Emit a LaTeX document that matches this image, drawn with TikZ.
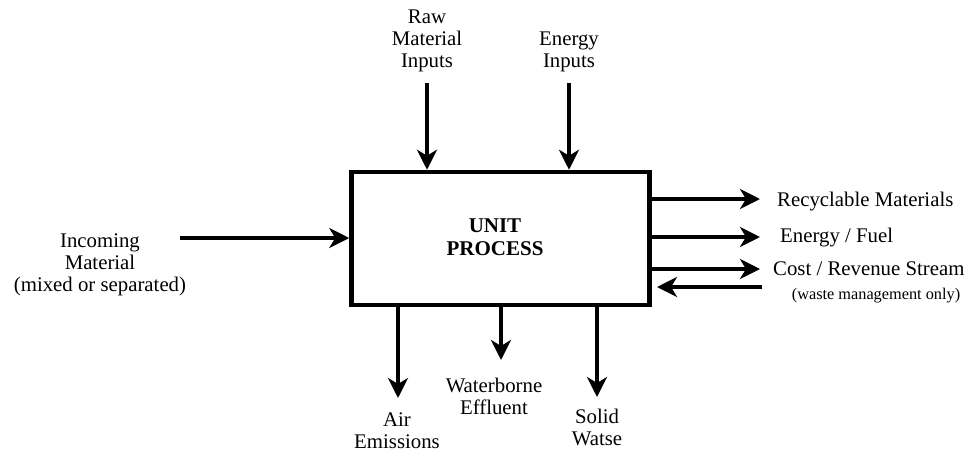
\documentclass[tikz,border=0pt]{standalone}
\usepackage{fontspec}
\setmainfont{Liberation Serif}
\usetikzlibrary{arrows.meta}
\begin{document}
\begin{tikzpicture}[x=1pt,y=-1pt,
  lbl/.style={font=\fontsize{20.8}{22}\selectfont, align=center, inner sep=0pt, anchor=base},
  rlbl/.style={font=\fontsize{20.8}{22}\selectfont, inner sep=0pt, anchor=base west},
  small/.style={font=\fontsize{16.3}{18}\selectfont, inner sep=0pt, anchor=base},
  ttl/.style={font=\fontsize{21}{23}\selectfont\bfseries, align=center, inner sep=0pt, anchor=base},
  procbox/.style={draw, line width=4.5pt, minimum width=298pt, minimum height=133pt, inner sep=0pt},
  flow/.style={line width=3.5pt, -{Stealth[length=20pt,width=20pt,inset=6pt]}}]
\useasboundingbox (0,0) rectangle (966,453);

% unit process box
\node[procbox] (box) at (500.5,238.5) {};
\node[ttl] (title) at (495,255) {UNIT\\PROCESS};

% top inputs
\node[lbl] (raw) at (427,67) {Raw\\Material\\Inputs};
\node[lbl] (energyin) at (569,67) {Energy\\Inputs};
\coordinate (rawS) at (427,83);
\coordinate (enS) at (569,83);
\draw[flow] (rawS) -- (rawS |- box.north);
\draw[flow] (enS) -- (enS |- box.north);

% incoming
\node[lbl] (incoming) at (100,291) {Incoming\\Material\\(mixed or separated)};
\coordinate (inS) at (180,238);
\draw[flow] (inS) -- (inS -| box.west);

% right outputs
\node[rlbl] (recyc) at (777,206) {Recyclable Materials};
\node[rlbl] (fuel) at (780,242) {Energy / Fuel};
\node[rlbl] (cost) at (773,275) {Cost / Revenue Stream};
\node[small] (waste) at (876,299) {(waste management only)};
\coordinate (recE) at (760,199);
\coordinate (fuelE) at (760,237);
\coordinate (costE) at (760,269);
\coordinate (backS) at (762,287);
\coordinate (backE) at (657,287);
\draw[flow] (recE -| box.east) -- (recE);
\draw[flow] (fuelE -| box.east) -- (fuelE);
\draw[flow] (costE -| box.east) -- (costE);
\draw[flow] (backS) -- (backE);

% bottom outputs
\node[lbl] (air) at (397,448) {Air\\Emissions};
\node[lbl] (water) at (494,414) {Waterborne\\Effluent};
\node[lbl] (solid) at (597,445) {Solid\\Watse};
\coordinate (airE) at (398,398);
\coordinate (waterE) at (501,360);
\coordinate (solidE) at (597,397);
\draw[flow] (airE |- box.south) -- (airE);
\draw[flow] (waterE |- box.south) -- (waterE);
\draw[flow] (solidE |- box.south) -- (solidE);
\end{tikzpicture}
\end{document}
